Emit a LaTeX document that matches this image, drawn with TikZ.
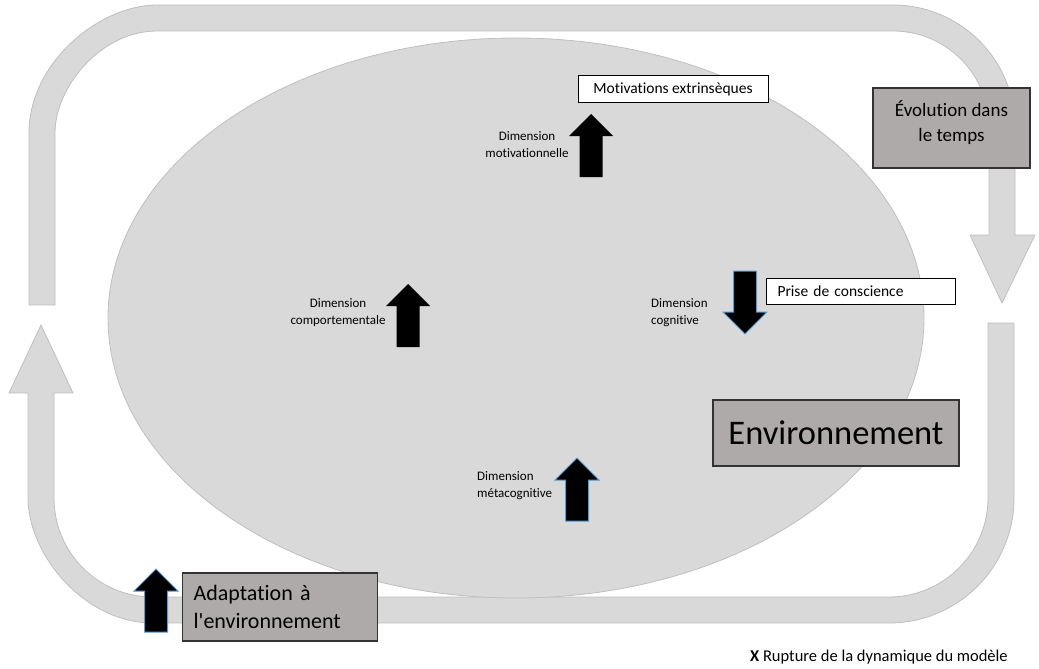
\documentclass[tikz,border=0pt]{standalone}
\usepackage{fontspec}
\newfontfamily\calib{Carlito}[Ligatures=NoCommon]
\definecolor{bandgray}{RGB}{217,217,217}
\definecolor{bandedge}{RGB}{191,191,191}
\definecolor{boxgray}{RGB}{174,170,170}
\definecolor{arrowblue}{RGB}{91,155,213}
\newcommand\fsz[2]{\calib\fontsize{#1pt}{#2pt}\selectfont}
\begin{document}
\begin{tikzpicture}[x=1pt,y=-1pt,
  band/.style={fill=bandgray,draw=bandedge,line width=0.8pt},
  whitebox/.style={draw=black,fill=white,line width=1pt,minimum height=26pt,inner ysep=0pt,font=\fsz{15.5}{18}},
  graybox/.style={draw=black!80,fill=boxgray,line width=1.2pt,inner ysep=0pt},
  dimlabel/.style={font=\fsz{13}{17},inner sep=0pt},
  solidarrow/.style={fill=black},
  edgedarrow/.style={fill=black,draw=arrowblue,line width=1pt},
  blockup/.pic={\path[pic actions] (0,0) -- (22,22) -- (11.5,22) -- (11.5,63)
     -- (-11.5,63) -- (-11.5,22) -- (-22,22) -- cycle;}]
\useasboundingbox (0,0) rectangle (1039,669);

% upper loop: from the left side over the top, down the right side
\draw[band] (29,305) -- (29,133)
  .. controls (29,62.3) and (99.7,5) .. (157,5)
  -- (893,5)
  .. controls (960.4,5) and (1015,59.6) .. (1015,127)
  -- (1015,235) -- (1035,235) -- (1002,303) -- (970,235) -- (989,235)
  -- (989,127)
  .. controls (989,74) and (946,31) .. (893,31)
  -- (157,31)
  .. controls (100.7,31) and (55,87.3) .. (55,133)
  -- (55,305) -- cycle;

% lower loop: from the right side under the bottom, up the left side
\draw[band] (988,323) -- (1014,323) -- (1014,498)
  .. controls (1014,567) and (958,623) .. (889,623)
  -- (153,623)
  .. controls (84,623) and (28,554) .. (28,498)
  -- (28,393) -- (9,393) -- (41,325) -- (73,393) -- (54,393)
  -- (54,498)
  .. controls (54,552.7) and (98.3,597) .. (153,597)
  -- (889,597)
  .. controls (943.7,597) and (988,552.3) .. (988,498)
  -- cycle;

% central ellipse
\draw[band] (516,318) ellipse [x radius=408, y radius=280];

% dimension arrows
\pic[solidarrow] (motarrow) at (591,114) {blockup};
\pic[solidarrow] (comparrow) at (408,284) {blockup};
\pic[edgedarrow,rotate=180] (cogarrow) at (745,334) {blockup};
\pic[edgedarrow] (metaarrow) at (577,458) {blockup};
\pic[edgedarrow] (adaptarrow) at (156,569) {blockup};

% labels of the dimensions
\node[dimlabel,align=center] (motlabel) at (527,145) {Dimension\\motivationnelle};
\node[dimlabel,align=center] (complabel) at (338,313) {Dimension\\comportementale};
\node[dimlabel,align=left,anchor=west] (coglabel) at (651,313) {Dimension\\cognitive};
\node[dimlabel,align=left,anchor=west] (metalabel) at (477,486) {Dimension\\métacognitive};

% white boxes
\node[whitebox,minimum width=190pt] (motbox) at (673,89) {Motivations extrinsèques};
\node[whitebox,anchor=west,text width=167pt,inner xsep=11pt,align=left] (prisebox) at (766,291) {Prise de conscience};

% gray boxes
\node[graybox,minimum width=246pt,minimum height=66pt,font=\fsz{34.5}{40}] (envbox) at (836,433) {Environnement};
\node[graybox,minimum width=157pt,minimum height=80pt] (evobox) at (951.5,128) {};
\node[inner sep=0pt,font=\fsz{19}{25},align=center] (evotext) at (951.5,123) {Évolution dans\\le temps};
\node[graybox,anchor=west,text width=173pt,inner xsep=11pt,minimum height=68pt,font=\fsz{22}{28},align=left] (adaptbox) at (182,607) {Adaptation à\\l'environnement};

% legend
\node[anchor=west,inner sep=0pt,font=\fsz{16.5}{19}] (legend) at (750,657) {\textbf{X} Rupture de la dynamique du modèle};
\end{tikzpicture}
\end{document}
